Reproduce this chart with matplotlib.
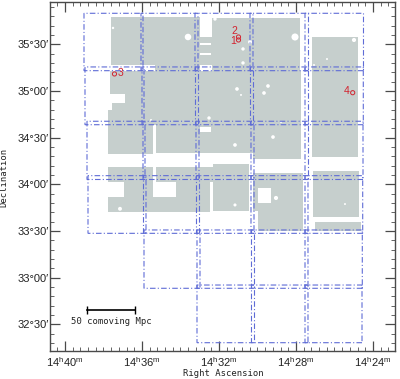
import matplotlib
matplotlib.use("Agg")
import matplotlib.pyplot as plt
from matplotlib.patches import Rectangle
from matplotlib.ticker import MultipleLocator

plt.rcParams['mathtext.fontset'] = 'custom'
plt.rcParams['mathtext.rm'] = 'Liberation Sans'

# survey fields, one row per declination strip, ra edges in minutes after 14h
row_north = [35.832, 35.257, 34.675, 34.092, 33.510, 32.920]
row_south = [35.217, 34.638, 34.051, 33.474, 32.885, 32.302]
field_east = [
    [39.013, 36.052, 33.247, 30.390, 27.532],
    [38.961, 36.000, 33.221, 30.364, 27.532],
    [38.857, 35.948, 33.195, 30.338, 27.532],
    [38.805, 35.922, 33.169, 30.338, 27.532],
    [None, 35.896, 33.143, 30.312, 27.532],
    [None, None, 33.143, 30.312, 27.532],
]
field_west = [
    [35.948, 33.091, 30.234, 27.351, 24.494],
    [35.896, 33.065, 30.208, 27.351, 24.504],
    [35.844, 33.039, 30.182, 27.351, 24.519],
    [35.792, 33.013, 30.182, 27.377, 24.535],
    [None, 32.987, 30.156, 27.377, 24.556],
    [None, None, 30.156, 27.377, 24.571],
]

# imaging coverage: ra east, ra west, dec north, dec south
gray_east = [37.610, 32.364, 35.325, 32.987, 27.169, 37.662, 36.883, 37.558, 37.766,
             37.766, 35.273, 30.234, 37.766, 35.273, 32.312, 36.935, 34.234, 37.766,
             32.312, 30.234, 29.974, 27.117, 27.013]
gray_west = [32.987, 27.818, 32.987, 32.364, 24.780, 27.740, 27.740, 27.740, 27.740,
             35.429, 27.740, 27.740, 35.429, 30.416, 30.416, 35.429, 32.468, 32.468,
             30.416, 27.636, 27.636, 24.727, 24.639]
gray_north = [35.793, 35.782, 35.278, 35.581, 35.581, 35.214, 34.967, 34.871, 34.796,
              34.635, 34.635, 34.334, 34.185, 34.185, 34.217, 34.024, 34.024, 33.863,
              34.024, 34.124, 33.713, 34.145, 33.592]
gray_south = [35.278, 35.214, 35.214, 35.278, 34.289, 34.967, 34.871, 34.796, 34.635,
              34.324, 34.334, 34.271, 34.024, 34.024, 33.713, 33.863, 33.863, 33.703,
              33.713, 33.713, 33.502, 33.652, 33.502]

# white gaps on top of the coverage
hole_east = [32.987, 32.987, 32.987, 29.974]
hole_west = [32.416, 32.416, 32.416, 29.299]
hole_north = [35.510, 35.403, 34.614, 33.960]
hole_south = [35.495, 35.388, 34.565, 33.799]

# bright stars masked out
star_ra = [33.610, 37.506, 32.208, 30.390, 30.753, 30.753, 28.052, 24.987, 26.390, 27.065,
           29.455, 31.065, 29.662, 30.857, 32.519, 28.779, 29.195, 31.169, 35.532, 37.143,
           29.039, 31.169, 25.455]
star_dec = [35.578, 35.675, 35.771, 35.525, 35.450, 35.300, 35.578, 35.546, 35.342, 35.278,
            35.053, 35.021, 34.978, 34.957, 34.710, 34.667, 34.506, 34.421, 34.689, 33.737,
            33.853, 33.778, 33.788]
star_size = [22, 3, 6, 8, 6, 6, 26, 9, 2, 2, 7, 7, 7, 2, 6, 2, 7, 7, 2, 8, 9, 5, 2]

# numbered objects
obj_ra = [30.987, 30.987, 37.429, 25.055]
obj_dec = [35.546, 35.578, 35.182, 34.981]
label_text = ['1', '2', '3', '4']
label_ra = [31.273, 31.221, 37.091, 25.351]
label_dec = [35.539, 35.646, 35.196, 34.999]

bar_ra = [38.831, 36.379]
bar_dec = [32.652, 32.652]

ra_ticks = [40, 36, 32, 28, 24]
ra_labels = [r'$\mathrm{14^{h}%d^{m}}$' % t for t in ra_ticks]
dec_ticks = [32.5, 33.0, 33.5, 34.0, 34.5, 35.0, 35.5]
dec_labels = ["32°30′", "33°00′", "33°30′", "34°00′", "34°30′", "35°00′", "35°30′"]

gray = '#c6cfcd'
blue = '#5f6cd6'
axcol = '#4a4a4a'
red = '#d2232f'
mono = 'DejaVu Sans Mono'

fig = plt.figure(figsize=(4.0, 3.79), dpi=100)
ax = fig.add_axes([49.5 / 400, 28 / 379, 345.5 / 400, 349 / 379])
ax.set_xlim(40.805, 22.857)
ax.set_ylim(32.213, 35.953)

for i in range(len(gray_east)):
    ax.add_patch(Rectangle((gray_west[i], gray_south[i]), gray_east[i] - gray_west[i],
                           gray_north[i] - gray_south[i], fc=gray, ec='none', zorder=1))
for i in range(len(hole_east)):
    ax.add_patch(Rectangle((hole_west[i], hole_south[i]), hole_east[i] - hole_west[i],
                           hole_north[i] - hole_south[i], fc='white', ec='none', zorder=2))
ax.scatter(star_ra, star_dec, s=star_size, c='white', linewidths=0, zorder=2)

for r in range(len(row_north)):
    for c in range(5):
        if field_east[r][c] is None:
            continue
        ax.add_patch(Rectangle((field_west[r][c], row_south[r]),
                               field_east[r][c] - field_west[r][c],
                               row_north[r] - row_south[r], fc='none', ec=blue, lw=0.8,
                               ls=(0, (5, 2, 1, 2)), snap=False, zorder=3))

ax.scatter(obj_ra, obj_dec, s=9, facecolors='none', edgecolors=red, linewidths=0.7, zorder=4)
for i in range(len(label_text)):
    ax.text(label_ra[i], label_dec[i], label_text[i], color=red, fontsize=7.5,
            family='Liberation Sans', ha='center', va='center', zorder=4)

ax.plot(bar_ra, bar_dec, color='black', lw=1.2, marker='|', ms=6, mew=1.0, zorder=4)
ax.text(37.6, 32.53, '50 comoving Mpc', family=mono, fontsize=6.4, ha='center', va='center',
        color='#222222')

ax.set_xticks(ra_ticks)
ax.set_xticklabels(ra_labels, fontsize=8)
ax.set_yticks(dec_ticks)
ax.set_yticklabels(dec_labels, fontsize=8, family='Liberation Sans')
ax.xaxis.set_minor_locator(MultipleLocator(0.4))
ax.yaxis.set_minor_locator(MultipleLocator(0.1))
ax.tick_params(which='major', direction='in', top=True, right=True, length=7.2, width=0.9,
               color=axcol, labelcolor='#222222')
ax.tick_params(which='minor', direction='in', top=True, right=True, length=3.2, width=0.6, color=axcol)
ax.tick_params(axis='x', which='major', pad=3)
ax.tick_params(axis='y', which='major', pad=0.5)
for s in ax.spines.values():
    s.set_color(axcol)
    s.set_linewidth(1.0)

fig.text(223 / 400, 1 - 374 / 379, 'Right Ascension', family=mono, fontsize=6.4,
         ha='center', va='center', color='#222222')
fig.text(4 / 400, 1 - 177 / 379, 'Declination', family=mono, fontsize=6.4, rotation=90,
         ha='center', va='center', color='#222222')

fig.savefig('out.png', dpi=100)
